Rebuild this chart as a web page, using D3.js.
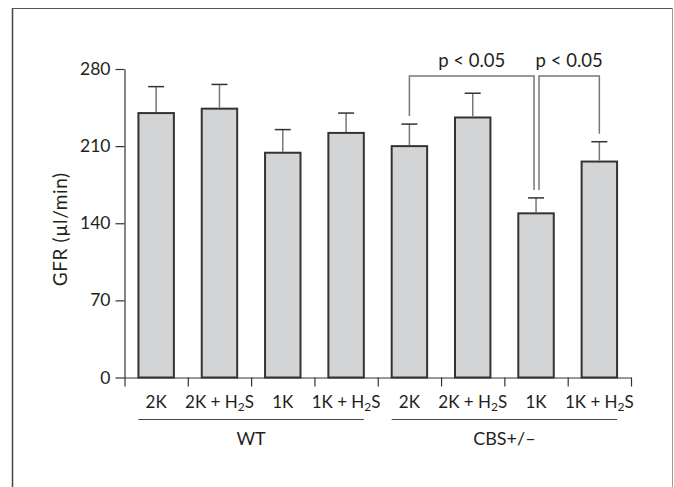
<!DOCTYPE html>
<html>
<head>
<meta charset="utf-8">
<script src="https://cdn.jsdelivr.net/npm/d3@7"></script>
<style>
  html, body { margin: 0; padding: 0; background: #fff; }
  svg { display: block; font-family: Lato, "Open Sans", sans-serif; }
</style>
</head>
<body>
<svg id="chart" width="674" height="487"></svg>
<script>
// chart values
const categories = ["2K", "2K + H2S", "1K", "1K + H2S", "2K", "2K + H2S", "1K", "1K + H2S"];
const groups = [
  { name: "WT", from: 0, to: 3 },
  { name: "CBS+/\u2013", from: 4, to: 7 }
];
const means = [240, 244, 204, 222, 210, 236, 149, 196];
const errors = [24, 22, 21, 18, 20, 22, 14, 18];
const yTicks = [0, 70, 140, 210, 280];
const yLabel = "GFR (\u00b5l/min)";
// significance brackets: [from bar, to bar, label]
const brackets = [
  [4, 6, "p < 0.05"],
  [6, 7, "p < 0.05"]
];

const svg = d3.select("#chart");
const ink = "#231f20";

// outer frame
svg.append("line").attr("x1", 12.5).attr("x2", 12.5).attr("y1", 8).attr("y2", 487)
  .attr("stroke", "#444").attr("stroke-width", 1.5);
svg.append("line").attr("x1", 12).attr("x2", 673).attr("y1", 8.5).attr("y2", 8.5)
  .attr("stroke", "#555").attr("stroke-width", 1.2);
svg.append("line").attr("x1", 672.5).attr("x2", 672.5).attr("y1", 8).attr("y2", 487)
  .attr("stroke", "#999").attr("stroke-width", 1);

const plotL = 124.5, plotR = 631, plotT = 69, plotB = 377.5;

const x = d3.scaleBand()
  .domain(d3.range(categories.length))
  .range([plotL, plotR])
  .paddingInner(0.44)
  .paddingOuter(0.22);

const xEdges = d3.scaleLinear().domain([0, categories.length]).range([plotL, plotR]);

const y = d3.scaleLinear().domain([0, 280]).range([plotB, plotT]);

const g = svg.append("g");

// y axis
const yAxis = g.append("g")
  .attr("transform", `translate(${plotL},0)`)
  .call(d3.axisLeft(y).tickValues(yTicks).tickSize(9).tickSizeOuter(0).tickPadding(5));
yAxis.select(".domain").attr("stroke", "#333").attr("stroke-width", 1.2);
yAxis.selectAll(".tick line").attr("stroke", "#333").attr("stroke-width", 1.2);
yAxis.selectAll(".tick text")
  .attr("fill", ink).attr("font-size", 17.5).attr("font-family", "Lato, sans-serif");

// x axis: ticks at band boundaries
const xAxis = g.append("g")
  .attr("transform", `translate(0,${plotB})`)
  .call(d3.axisBottom(xEdges).tickValues(d3.range(categories.length + 1))
    .tickFormat("").tickSize(9).tickSizeOuter(0));
xAxis.select(".domain").attr("stroke", "#333").attr("stroke-width", 1.2);
xAxis.selectAll(".tick line").attr("stroke", "#333").attr("stroke-width", 1.2);

// bars
g.selectAll("rect.bar")
  .data(means)
  .join("rect")
  .attr("class", "bar")
  .attr("x", (d, i) => x(i))
  .attr("width", x.bandwidth())
  .attr("y", d => y(d))
  .attr("height", d => y(0) - y(d))
  .attr("fill", "#d3d4d6")
  .attr("stroke", "#333")
  .attr("stroke-width", 2);

// error bars
const capW = 16;
const eb = g.selectAll("g.err")
  .data(means.map((m, i) => ({ m, e: errors[i], i })))
  .join("g").attr("class", "err");
eb.append("line")
  .attr("x1", d => x(d.i) + x.bandwidth() / 2)
  .attr("x2", d => x(d.i) + x.bandwidth() / 2)
  .attr("y1", d => y(d.m) - 1)
  .attr("y2", d => y(d.m + d.e))
  .attr("stroke", "#777").attr("stroke-width", 1.5);
eb.append("line")
  .attr("x1", d => x(d.i) + x.bandwidth() / 2 - capW / 2)
  .attr("x2", d => x(d.i) + x.bandwidth() / 2 + capW / 2)
  .attr("y1", d => y(d.m + d.e))
  .attr("y2", d => y(d.m + d.e))
  .attr("stroke", "#333").attr("stroke-width", 1.5);

// category labels with H2S subscript
const cx = i => x(i) + x.bandwidth() / 2;
const lbl = g.selectAll("text.cat")
  .data(categories)
  .join("text")
  .attr("class", "cat")
  .attr("x", (d, i) => cx(i))
  .attr("y", 408)
  .attr("text-anchor", "middle")
  .attr("font-size", 17)
  .attr("fill", ink);
lbl.each(function(d) {
  const t = d3.select(this);
  const m = d.match(/^(.*H)2(S)$/);
  if (!m) { t.text(d); return; }
  t.append("tspan").text(m[1]);
  t.append("tspan").attr("font-size", 12).attr("dy", 3).text("2");
  t.append("tspan").attr("dy", -3).text(m[2]);
});

// group lines and names
groups.forEach(gr => {
  g.append("line")
    .attr("x1", x(gr.from)).attr("x2", x(gr.to) + x.bandwidth())
    .attr("y1", 419.5).attr("y2", 419.5)
    .attr("stroke", "#444").attr("stroke-width", 1.2);
  g.append("text")
    .attr("x", (x(gr.from) + x(gr.to) + x.bandwidth()) / 2)
    .attr("y", 445)
    .attr("text-anchor", "middle")
    .attr("font-size", 18)
    .attr("fill", ink)
    .text(gr.name);
});

// y label
g.append("text")
  .attr("transform", `translate(67,${(plotT + plotB) / 2 + 6}) rotate(-90)`)
  .attr("text-anchor", "middle")
  .attr("font-size", 19)
  .attr("letter-spacing", 0.6)
  .attr("fill", ink)
  .text(yLabel);

// significance brackets
const bracketY = 76;
brackets.forEach(([a, b, txt], k) => {
  const xa = cx(a) + (k === 1 ? 3 : 0);
  const xb = cx(b) + (k === 0 ? -2 : 0);
  const ya = y(means[a] + errors[a]) - 8;
  const yb = y(means[b] + errors[b]) - 8;
  g.append("path")
    .attr("d", `M${xa},${ya}V${bracketY}H${xb}V${yb}`)
    .attr("fill", "none")
    .attr("stroke", "#777")
    .attr("stroke-width", 1.5);
  g.append("text")
    .attr("x", (xa + xb) / 2)
    .attr("y", 67)
    .attr("text-anchor", "middle")
    .attr("font-size", 18.5)
    .attr("fill", ink)
    .text(txt);
});
</script>
</body>
</html>
